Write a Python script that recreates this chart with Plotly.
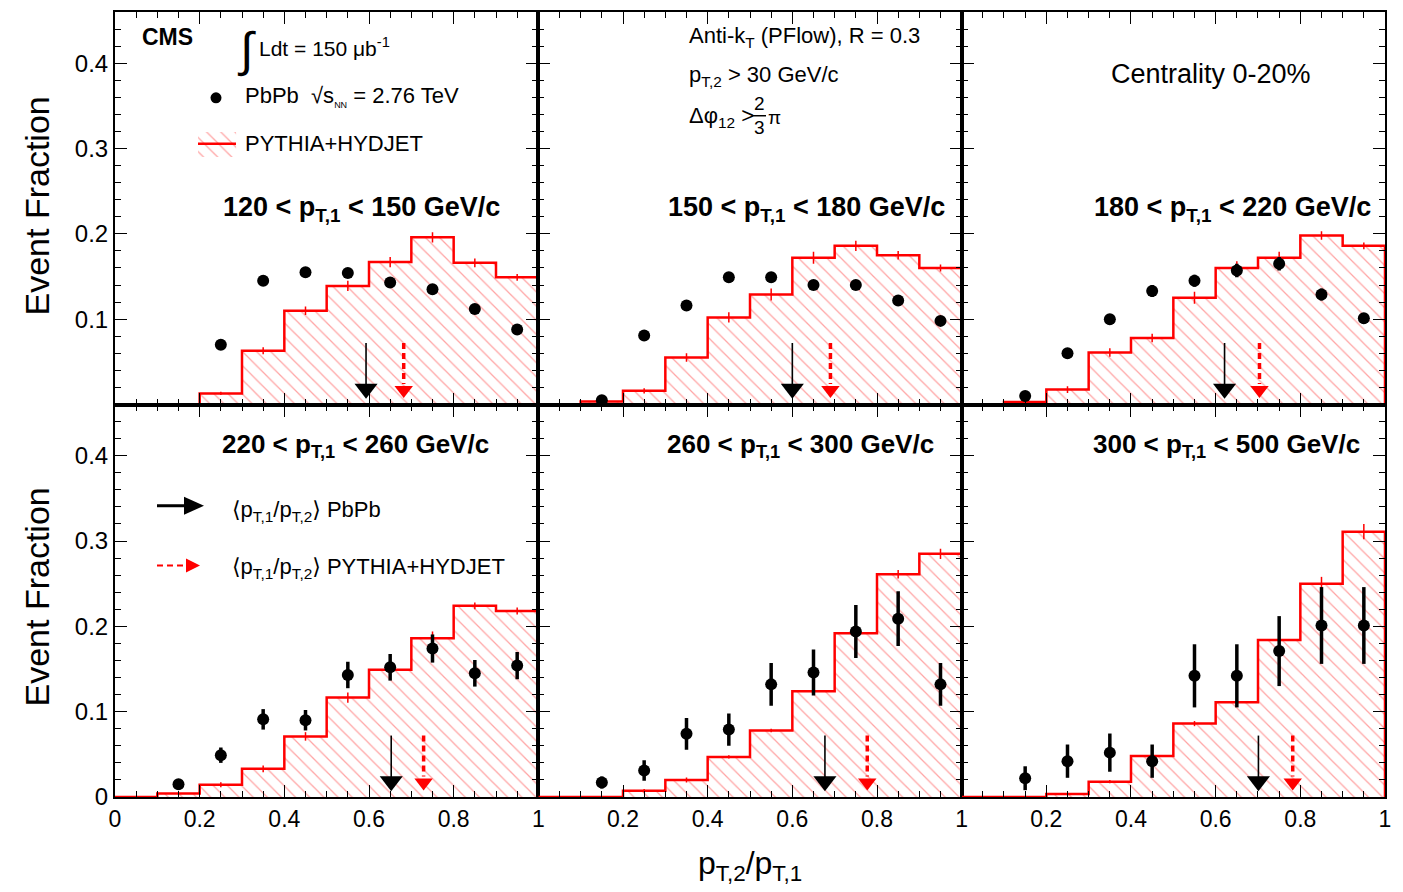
import plotly.graph_objects as go
from plotly.subplots import make_subplots

# ---------------- data ----------------
bin_lo = [0.0, 0.1, 0.2, 0.3, 0.4, 0.5, 0.6, 0.7, 0.8, 0.9]
bin_centers = [0.05, 0.15, 0.25, 0.35, 0.45, 0.55, 0.65, 0.75, 0.85, 0.95]
data_x = [0.15, 0.25, 0.35, 0.45, 0.55, 0.65, 0.75, 0.85, 0.95]
pt_ranges = [("120", "150"), ("150", "180"), ("180", "220"),
             ("220", "260"), ("260", "300"), ("300", "500")]

pbpb_1 = [None, 0.070, 0.145, 0.155, 0.154, 0.143, 0.135, 0.112, 0.088]
pbpb_2 = [0.005, 0.081, 0.116, 0.149, 0.149, 0.140, 0.140, 0.122, 0.098]
pbpb_3 = [0.010, 0.060, 0.100, 0.133, 0.145, 0.157, 0.165, 0.129, 0.101]
pbpb_4 = [0.015, 0.049, 0.091, 0.090, 0.143, 0.152, 0.174, 0.145, 0.154]
pbpb_5 = [0.017, 0.031, 0.074, 0.079, 0.132, 0.146, 0.194, 0.209, 0.132]
pbpb_6 = [0.022, 0.042, 0.052, 0.042, 0.142, 0.142, 0.171, 0.201, 0.201]

pbpb_err_1 = [0.0, 0.004, 0.005, 0.005, 0.005, 0.005, 0.005, 0.004, 0.004]
pbpb_err_2 = [0.002, 0.004, 0.005, 0.005, 0.005, 0.005, 0.005, 0.005, 0.005]
pbpb_err_3 = [0.003, 0.005, 0.006, 0.007, 0.007, 0.008, 0.008, 0.007, 0.006]
pbpb_err_4 = [0.005, 0.009, 0.012, 0.012, 0.0155, 0.0156, 0.0165, 0.0156, 0.016]
pbpb_err_5 = [0.007, 0.012, 0.0185, 0.019, 0.025, 0.027, 0.031, 0.032, 0.025]
pbpb_err_6 = [0.014, 0.0195, 0.0224, 0.0195, 0.037, 0.037, 0.041, 0.045, 0.045]

mc_1 = [0.0, 0.0, 0.013, 0.063, 0.110, 0.139, 0.167, 0.196, 0.166, 0.149]
mc_2 = [0.0, 0.0035, 0.016, 0.055, 0.102, 0.129, 0.172, 0.186, 0.175, 0.160]
mc_3 = [0.0, 0.003, 0.0175, 0.061, 0.078, 0.125, 0.160, 0.172, 0.198, 0.186]
mc_4 = [0.0, 0.004, 0.0144, 0.033, 0.071, 0.1165, 0.149, 0.186, 0.224, 0.218]
mc_5 = [0.0, 0.0, 0.0074, 0.020, 0.047, 0.078, 0.124, 0.192, 0.261, 0.285]
mc_6 = [0.0, 0.0, 0.0035, 0.018, 0.048, 0.086, 0.111, 0.184, 0.250, 0.311]

mc_err_1 = [0, 0, 0.002, 0.004, 0.005, 0.006, 0.006, 0.006, 0.005, 0.004]
mc_err_2 = [0, 0.001, 0.003, 0.005, 0.006, 0.007, 0.007, 0.006, 0.005, 0.004]
mc_err_3 = [0, 0.001, 0.004, 0.005, 0.005, 0.007, 0.008, 0.007, 0.005, 0.004]
mc_err_4 = [0, 0.001, 0.003, 0.004, 0.005, 0.006, 0.007, 0.008, 0.004, 0.004]
mc_err_5 = [0, 0, 0.002, 0.003, 0.002, 0.002, 0.003, 0.004, 0.005, 0.006]
mc_err_6 = [0, 0, 0.001, 0.002, 0.002, 0.003, 0.004, 0.007, 0.008, 0.009]

mean_pbpb = [0.593, 0.600, 0.621, 0.6525, 0.677, 0.701]
mean_mc = [0.682, 0.690, 0.7035, 0.729, 0.777, 0.782]

x_tickvals = [0, 0.2, 0.4, 0.6, 0.8, 1.0]
x_ticktext_first = ["0", "0.2", "0.4", "0.6", "0.8", "1"]
x_ticktext_other = ["", "0.2", "0.4", "0.6", "0.8", "1"]
y_tickvals = [0, 0.1, 0.2, 0.3, 0.4]
y_ticktext_top = ["", "0.1", "0.2", "0.3", "0.4"]
y_ticktext_bottom = ["0", "0.1", "0.2", "0.3", "0.4"]

pbpb = [pbpb_1, pbpb_2, pbpb_3, pbpb_4, pbpb_5, pbpb_6]
pbpb_err = [pbpb_err_1, pbpb_err_2, pbpb_err_3, pbpb_err_4, pbpb_err_5, pbpb_err_6]
mc = [mc_1, mc_2, mc_3, mc_4, mc_5, mc_6]
mc_err = [mc_err_1, mc_err_2, mc_err_3, mc_err_4, mc_err_5, mc_err_6]

# ---------------- geometry helpers ----------------
W, H = 1403, 892
ML, MR, MT, MB = 115, 18, 10, 95
PW, PH = W - ML - MR, H - MT - MB


def px(xp):
    return (xp - ML) / PW


def py(yp):
    return (H - MB - yp) / PH


FONT = "Liberation Sans, Arial, Helvetica, DejaVu Sans, sans-serif"
RED = "#ff0000"
HATCH = "rgba(255,40,40,0.85)"
YMAX = 0.46

fig = make_subplots(rows=2, cols=3, horizontal_spacing=0, vertical_spacing=0)

for i in range(6):
    r, c = i // 3 + 1, i % 3 + 1
    # hatched MC histogram
    fig.add_trace(go.Bar(
        x=bin_centers, y=mc[i], width=0.1,
        marker=dict(color="rgba(0,0,0,0)", line=dict(width=0),
                    pattern=dict(shape="\\", fgcolor=HATCH,
                                 bgcolor="rgba(0,0,0,0)", size=10, solidity=0.13)),
        showlegend=False, hoverinfo="skip"), row=r, col=c)
    # step outline
    fig.add_trace(go.Scatter(
        x=bin_lo + [1.0, 1.0], y=mc[i] + [mc[i][-1], 0.0], mode="lines",
        line=dict(color=RED, width=2.5, shape="hv"),
        showlegend=False, hoverinfo="skip"), row=r, col=c)
    # MC stat errors
    fig.add_trace(go.Scatter(
        x=bin_centers, y=mc[i], mode="markers",
        marker=dict(size=1, color="rgba(0,0,0,0)"),
        error_y=dict(type="data", array=mc_err[i], color=RED, thickness=1.5, width=0),
        showlegend=False, hoverinfo="skip"), row=r, col=c)
    # PbPb data
    fig.add_trace(go.Scatter(
        x=data_x, y=pbpb[i], mode="markers",
        marker=dict(size=12, color="black"),
        error_y=dict(type="data", array=pbpb_err[i], color="black", thickness=3.5, width=0),
        showlegend=False), row=r, col=c)
    # mean arrows
    m = mean_pbpb[i]
    fig.add_trace(go.Scatter(x=[m, m], y=[0.072, 0.022], mode="lines",
                             line=dict(color="black", width=1.6),
                             showlegend=False, hoverinfo="skip"), row=r, col=c)
    fig.add_trace(go.Scatter(x=[m], y=[0.0185], mode="markers",
                             marker=dict(symbol="triangle-down", size=20, color="black"),
                             showlegend=False, hoverinfo="skip"), row=r, col=c)
    mm = mean_mc[i]
    fig.add_trace(go.Scatter(x=[mm, mm], y=[0.072, 0.024], mode="lines",
                             line=dict(color=RED, width=3.5, dash="6px,4px"),
                             showlegend=False, hoverinfo="skip"), row=r, col=c)
    fig.add_trace(go.Scatter(x=[mm], y=[0.017], mode="markers",
                             marker=dict(symbol="triangle-down", size=16, color=RED),
                             showlegend=False, hoverinfo="skip"), row=r, col=c)

    # axes
    fig.update_xaxes(
        range=[0, 1], showline=True, mirror="ticks", linewidth=2, linecolor="black",
        ticks="inside", ticklen=12, tickwidth=1.3, tickcolor="black",
        tickmode="array", tickvals=x_tickvals,
        ticktext=x_ticktext_first if c == 1 else x_ticktext_other,
        showticklabels=(r == 2), tickfont=dict(family=FONT, size=23, color="black"),
        minor=dict(ticks="inside", ticklen=6, tickwidth=1.3, tickcolor="black",
                   tickmode="linear", tick0=0, dtick=0.05),
        showgrid=False, zeroline=False, row=r, col=c)
    fig.update_yaxes(
        range=[0, YMAX], showline=True, mirror="ticks", linewidth=2, linecolor="black",
        ticks="inside", ticklen=12, tickwidth=1.3, tickcolor="black",
        tickmode="array", tickvals=y_tickvals,
        ticktext=y_ticktext_top if r == 1 else y_ticktext_bottom,
        showticklabels=(c == 1), tickfont=dict(family=FONT, size=24, color="black"),
        minor=dict(ticks="inside", ticklen=6, tickwidth=1.3, tickcolor="black",
                   tickmode="linear", tick0=0, dtick=0.02),
        showgrid=False, zeroline=False, row=r, col=c)

annotations = []
shapes = []


def ann(text, x, y, size=21, xanchor="left", yanchor="middle", bold=False, angle=0):
    if bold:
        text = "<b>" + text + "</b>"
    annotations.append(dict(text=text, x=px(x), y=py(y), xref="paper", yref="paper",
                            xanchor=xanchor, yanchor=yanchor, showarrow=False,
                            textangle=angle,
                            font=dict(family=FONT, size=size, color="black")))


# panel pT labels
label_pos = [(221, 208), (666, 208), (1092, 208), (220, 445), (665, 445), (1091, 445)]
label_size = [27, 27, 27, 26, 26, 26]
for (lo, hi), (lx, ly), ls in zip(pt_ranges, label_pos, label_size):
    ann(f"{lo} &lt; p<sub>T,1</sub> &lt; {hi} GeV/c", lx, ly, size=ls, bold=True)

# top-left texts / legend
ann("CMS", 167, 35, size=23, xanchor="center", bold=True)
ann("\u222b", 246, 48, size=48, xanchor="center")
ann("Ldt = 150 \u03bcb<sup>-1</sup>", 257, 45, size=21)
ann("PbPb  \u221as<sub><span style='font-size:9px'>NN</span></sub> = 2.76 TeV", 243, 95, size=22)
ann("PYTHIA+HYDJET", 243, 142, size=22)
shapes.append(dict(type="circle", xref="paper", yref="paper",
                   x0=px(210.5), x1=px(221.5), y0=py(90.5), y1=py(101.5),
                   fillcolor="black", line=dict(width=0)))
# hatched legend key (panel 1 data coords)
kx0, kx1 = (198 - ML) / 423, (236 - ML) / 423
ky0, ky1 = (403 - 155) / 855, (403 - 130) / 855
fig.add_trace(go.Scatter(x=[kx0, kx1, kx1, kx0, kx0], y=[ky0, ky0, ky1, ky1, ky0],
                         mode="lines", line=dict(width=0), fill="toself",
                         fillcolor="rgba(0,0,0,0)",
                         fillpattern=dict(shape="\\", fgcolor=HATCH,
                                          bgcolor="rgba(0,0,0,0)", size=10, solidity=0.13),
                         showlegend=False, hoverinfo="skip"), row=1, col=1)
shapes.append(dict(type="line", xref="paper", yref="paper",
                   x0=px(198), x1=px(236), y0=py(142), y1=py(142),
                   line=dict(color=RED, width=2.5)))

# panel 2 texts
ann("Anti-k<sub>T</sub> (PFlow), R = 0.3", 687, 35, size=22)
ann("p<sub>T,2</sub> &gt; 30 GeV/c", 687, 74, size=22)
ann("\u0394\u03c6<sub>12</sub> &gt;", 687, 115, size=22)
ann("2", 759, 102, size=19, xanchor="center")
ann("3", 759, 126, size=19, xanchor="center")
ann("\u03c0", 766, 116, size=19)
shapes.append(dict(type="line", xref="paper", yref="paper",
                   x0=px(752), x1=px(766), y0=py(114), y1=py(114),
                   line=dict(color="black", width=1.5)))

# panel 3 text
ann("Centrality 0-20%", 1211, 72, size=27, xanchor="center")

# panel 4 arrow legend
shapes.append(dict(type="line", xref="paper", yref="paper",
                   x0=px(157), x1=px(188), y0=py(505), y1=py(505),
                   line=dict(color="black", width=3)))
shapes.append(dict(type="path", xref="paper", yref="paper",
                   path=f"M {px(184)},{py(496)} L {px(204)},{py(505)} L {px(184)},{py(514)} Z",
                   fillcolor="black", line=dict(width=0)))
shapes.append(dict(type="line", xref="paper", yref="paper",
                   x0=px(157), x1=px(188), y0=py(565), y1=py(565),
                   line=dict(color=RED, width=2, dash="6px,4px")))
shapes.append(dict(type="path", xref="paper", yref="paper",
                   path=f"M {px(186)},{py(558)} L {px(200)},{py(565)} L {px(186)},{py(572)} Z",
                   fillcolor=RED, line=dict(width=0)))
ann("\u27e8p<sub>T,1</sub>/p<sub>T,2</sub>\u27e9 PbPb", 230, 510, size=22)
ann("\u27e8p<sub>T,1</sub>/p<sub>T,2</sub>\u27e9 PYTHIA+HYDJET", 230, 567, size=22)

# axis titles
ann("Event Fraction", 37, 205, size=34, xanchor="center", angle=-90)
ann("Event Fraction", 37, 597, size=34, xanchor="center", angle=-90)
ann("p<sub>T,2</sub>/p<sub>T,1</sub>", 750, 866, size=32, xanchor="center")

fig.update_layout(
    width=W, height=H, margin=dict(l=ML, r=MR, t=MT, b=MB),
    plot_bgcolor="white", paper_bgcolor="white", bargap=0, barmode="overlay",
    annotations=annotations, shapes=shapes, showlegend=False,
    font=dict(family=FONT, color="black"),
)

fig.write_html("out.html")
